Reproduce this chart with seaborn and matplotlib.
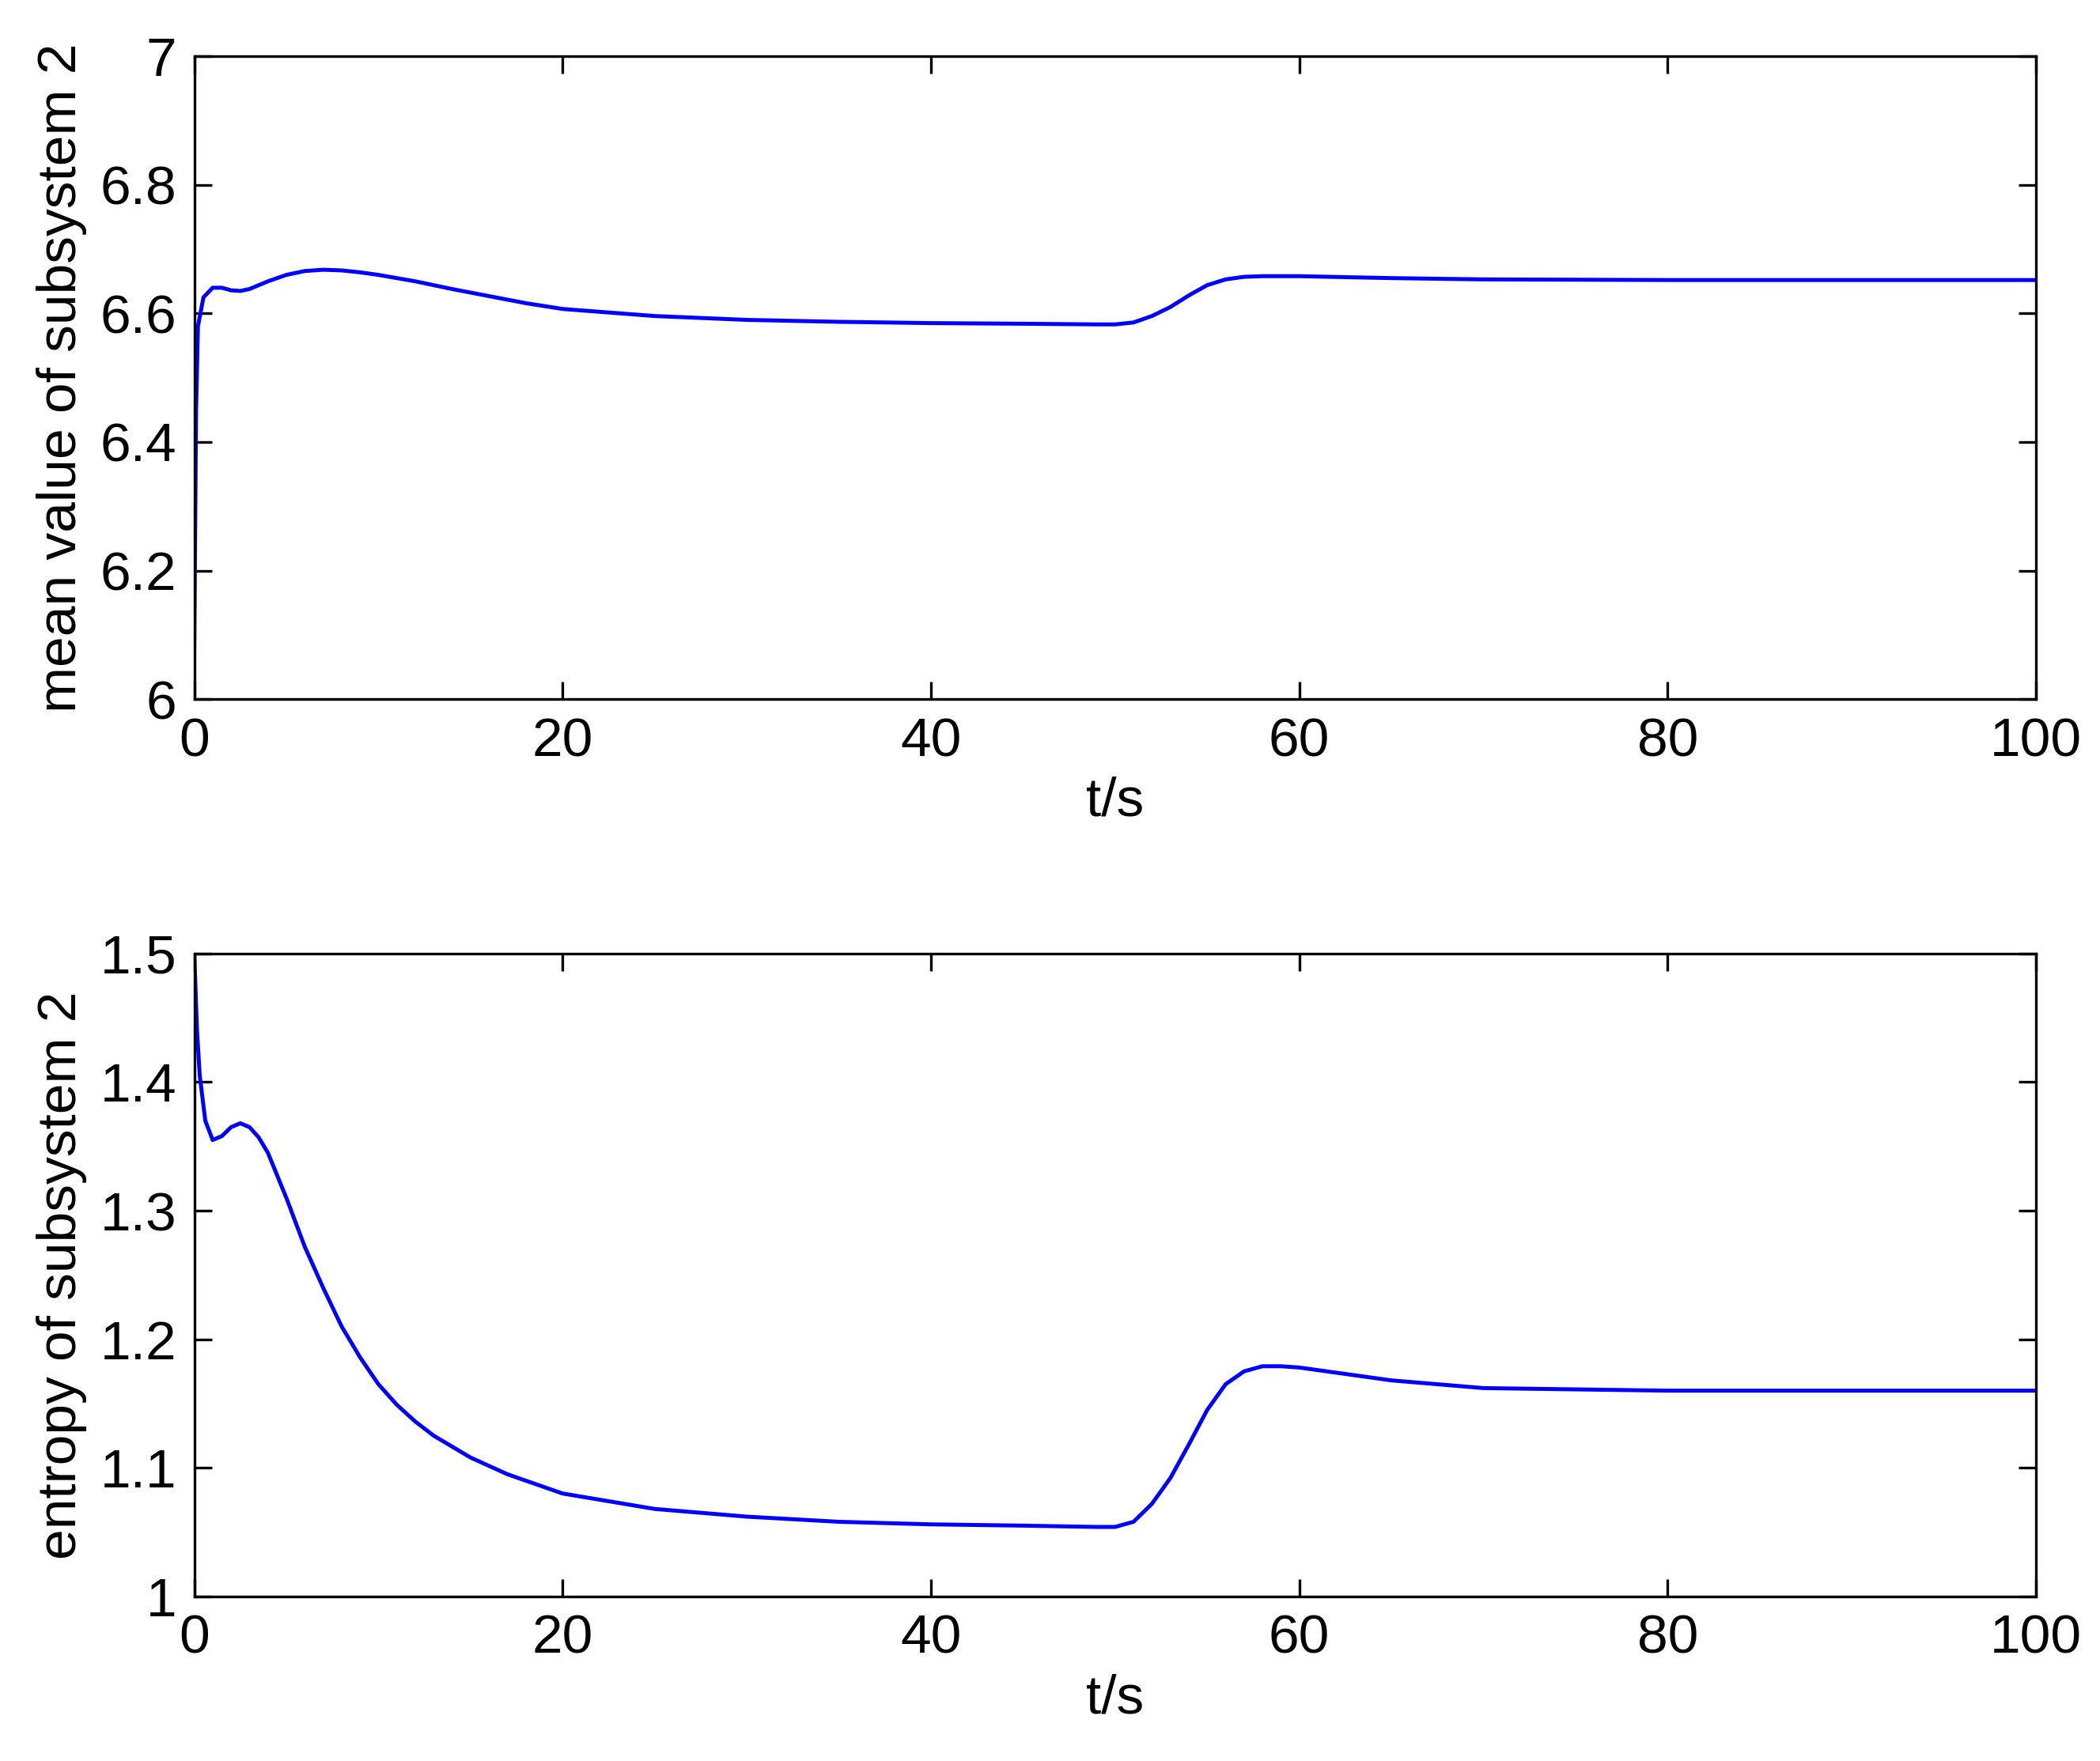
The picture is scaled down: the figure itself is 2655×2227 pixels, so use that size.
import seaborn as sns
sns.set_style("white")
import matplotlib.pyplot as plt

plt.rcParams['font.family'] = ['Liberation Sans', 'DejaVu Sans']
plt.rcParams['text.color'] = 'black'
plt.rcParams['axes.labelcolor'] = 'black'
plt.rcParams['xtick.color'] = 'black'
plt.rcParams['ytick.color'] = 'black'

# Values.
t_mean = [0, 0.1, 0.2, 0.5, 1, 1.5, 2, 2.5, 3, 4, 5, 6, 7, 8, 9, 10, 12, 14, 16, 18, 20,
          25, 30, 35, 40, 45, 49, 50, 51, 52, 53, 54, 55, 56, 57, 58, 60, 65, 70, 80, 90, 100]
mean_vals = [6.08, 6.45, 6.58, 6.625, 6.64, 6.64, 6.636, 6.635, 6.638, 6.65, 6.66,
             6.666, 6.668, 6.667, 6.664, 6.66, 6.65, 6.638, 6.627, 6.616, 6.607,
             6.596, 6.59, 6.587, 6.585, 6.584, 6.583, 6.583, 6.586, 6.596, 6.61,
             6.628, 6.644, 6.653, 6.657, 6.658, 6.658, 6.655, 6.653, 6.652, 6.652, 6.652]

t_ent = [0, 0.15, 0.3, 0.6, 1, 1.5, 2, 2.5, 3, 3.5, 4, 5, 6, 7, 8, 9, 10, 11, 12, 13, 15,
         17, 20, 25, 30, 35, 40, 45, 49, 50, 51, 52, 53, 54, 55, 56, 57, 58, 59, 60,
         62, 65, 70, 80, 90, 100]
ent_vals = [1.5, 1.44, 1.405, 1.37, 1.355, 1.358, 1.365, 1.368, 1.365, 1.357, 1.345,
            1.31, 1.272, 1.24, 1.21, 1.186, 1.165, 1.149, 1.136, 1.125, 1.108,
            1.095, 1.08, 1.068, 1.062, 1.058, 1.056, 1.055, 1.054, 1.054, 1.058,
            1.072, 1.092, 1.118, 1.145, 1.165, 1.175, 1.179, 1.179, 1.178,
            1.174, 1.168, 1.162, 1.16, 1.16, 1.16]

fig = plt.figure(figsize=(13.275, 11.135), dpi=200)
ax1 = fig.add_axes([0.0925, 0.603, 0.877, 0.365])
ax2 = fig.add_axes([0.0925, 0.0935, 0.877, 0.365])

panels = [
    (ax1, t_mean, mean_vals, (6, 7), [6, 6.2, 6.4, 6.6, 6.8, 7],
     ['6', '6.2', '6.4', '6.6', '6.8', '7'], 'mean value of subsystem 2'),
    (ax2, t_ent, ent_vals, (1, 1.5), [1, 1.1, 1.2, 1.3, 1.4, 1.5],
     ['1', '1.1', '1.2', '1.3', '1.4', '1.5'], 'entropy of subsystem 2'),
]

for ax, x, y, ylim, yt, ytl, ylab in panels:
    sns.lineplot(x=x, y=y, ax=ax, color='#0000ff', linewidth=1.8)
    ax.set_xlim(0, 100)
    ax.set_ylim(*ylim)
    ax.set_xticks([0, 20, 40, 60, 80, 100])
    ax.set_yticks(yt)
    ax.set_yticklabels(ytl)
    ax.set_xlabel('t/s', fontsize=25, labelpad=4)
    ax.set_ylabel(ylab, fontsize=25, labelpad=6)
    ax.tick_params(direction='in', length=8, width=1.2, labelsize=25,
                   top=True, right=True, bottom=True, left=True, pad=8)
    for s in ax.spines.values():
        s.set_linewidth(1.2)
        s.set_color('black')

fig.savefig('out.png', dpi=200)
